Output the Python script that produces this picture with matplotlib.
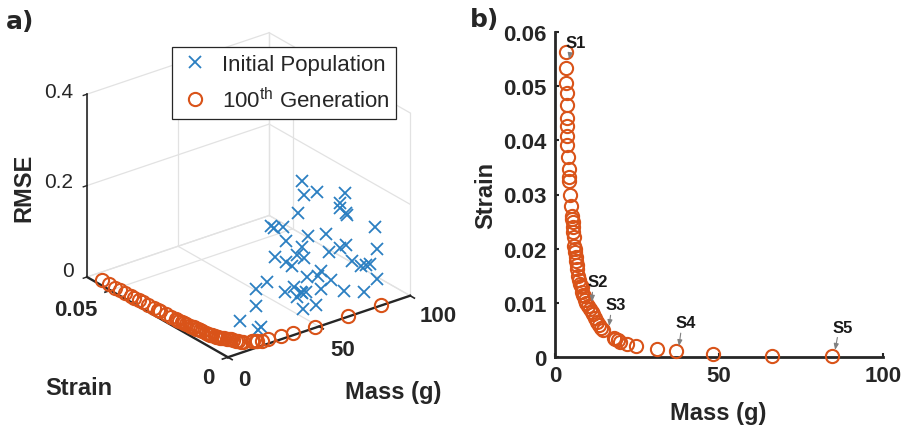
import matplotlib
matplotlib.use("Agg")
import matplotlib.pyplot as plt
from mpl_toolkits.mplot3d import Axes3D

W, H = 902, 431
plt.rcParams['font.family'] = ['Liberation Sans', 'DejaVu Sans']
plt.rcParams['mathtext.fontset'] = 'custom'
plt.rcParams['mathtext.rm'] = 'Liberation Sans'

BLUE = '#2b7fc1'
ORANGE = '#d95319'
DARK = '#262626'
GRID = '#e2e2e2'

# 100th generation (Pareto front)
front_mass = [3.35, 3.35, 3.35, 3.6, 3.6, 3.6, 3.6, 3.8, 3.8, 4.1, 4.2, 4.4, 4.4, 4.6, 4.8, 5.1, 5.2,
              5.4, 5.5, 5.6, 5.7, 5.8, 6.0, 6.2, 6.4, 6.5, 6.7, 6.8, 7.1, 7.3, 7.6, 7.8, 8.1, 8.2, 8.5,
              8.8, 9.2, 9.6, 10.2, 10.7, 11.2, 11.7, 12.2, 12.7, 13.3, 14.0, 14.7, 18.0, 18.3, 19.3,
              19.8, 21.9, 24.6, 31.0, 37.0, 48.2, 66.2, 84.4]
front_strain = [.0564, .0533, .0505, .0487, .0465, .0442, .0427, .0408, .0392, .037, .0347, .0333, .0325,
                .0299, .0279, .026, .0255, .0249, .024, .0231, .0221, .0205, .02, .0194, .0185, .0178,
                .017, .0162, .015, .0142, .0135, .0131, .0129, .012, .0115, .0112, .0105, .01, .0095,
                .0088, .0084, .0079, .0072, .0064, .0059, .0053, .0049, .0036, .0034, .0031, .0028,
                .0024, .002, .0015, .00105, .0005, .0002, .0002]
front_rmse = [0.0] * len(front_mass)

# initial population
init_mass = [55.9, 49.3, 64.5, 72.0, 77.0, 69.3, 80.2, 46.0, 96.4, 73.1, 69.4, 37.9, 39.1, 33.1, 47.3, 51.5,
             56.4, 72.5, 77.0, 89.8, 71.0, 33.6, 47.3, 45.5, 57.5, 42.8, 83.5, 80.6, 91.0, 85.5, 66.7, 57.4,
             59.1, 64.4, 89.3, 37.0, 23.4, 59.0, 67.6, 78.4, 51.6, 39.0, 55.4, 50.4, 53.2, 44.4, 31.0, 52.0,
             48.8, 14.2, 22.2, 20.6]
init_strain = [.012, .006, .012, .006, .012, .006, .012, .006, .012, .006, .012, .006, .012, .006, .012, .006,
               .012, .006, .012, .006, .012, .006, .012, .006, .012, .006, .012, .006, .012, .006, .012, .006,
               .012, .006, .006, .012, .006, .006, .003, .003, .012, .006, .012, .006, .012, .003, .012, .003,
               .006, .006, .003, .003]
init_rmse = [.276, .270, .239, .245, .198, .216, .173, .237, .121, .195, .141, .217, .199, .220, .155, .178,
             .131, .131, .100, .098, .099, .157, .110, .145, .105, .124, .062, .073, .044, .071, .063, .084,
             .060, .065, .034, .080, .100, .052, .045, .028, .049, .072, .032, .058, .024, .073, .035, .036,
             .022, .042, .028, .024]

mass_ticks = [0, 50, 100]
strain_ticks_3d = [0, 0.05]
strain_end = 0.06
rmse_ticks = [0, 0.2, 0.4]
strain_ticks_2d = [0, 0.01, 0.02, 0.03, 0.04, 0.05, 0.06]
strain_labels_2d = ['0', '0.01', '0.02', '0.03', '0.04', '0.05', '0.06']

# labelled solutions: name, label position, arrow tip
sol_names = ['S1', 'S2', 'S3', 'S4', 'S5']
sol_text_xy = [(6.3, .058), (13.0, .01385), (18.6, .0096), (40.0, .0063), (87.8, .0055)]
sol_tip_xy = [(4.3, .055), (11.3, .0102), (16.5, .0057), (37.8, .002), (85.4, .0013)]


def px_text(x, y, s, **kw):
    kw.setdefault('ha', 'center')
    kw.setdefault('va', 'center')
    kw.setdefault('color', DARK)
    fig.text(x / W, 1 - y / H, s, **kw)


fig = plt.figure(figsize=(W / 100, H / 100), dpi=100)

# panel a
side = 373
ax = fig.add_axes([57 / W, 43.5 / H, side / W, side / H], projection='3d',
                  proj_type='ortho', computed_zorder=False)
ax.set_box_aspect((233, 234, 206))
ax.view_init(elev=26, azim=-127.6)
ax.set_xlim(0, 100)
ax.set_ylim(0, strain_end)
ax.set_zlim(0, 0.4)
ax.set_axis_off()
ax.patch.set_alpha(0)

xmax = mass_ticks[-1]
zmax = rmse_ticks[-1]
g = dict(color=GRID, lw=0.9, zorder=1)
for m in mass_ticks:
    ax.plot([m, m], [0, strain_end], [0, 0], **g)
    ax.plot([m, m], [strain_end, strain_end], [0, zmax], **g)
for s in strain_ticks_3d + [strain_end]:
    ax.plot([0, xmax], [s, s], [0, 0], **g)
    ax.plot([xmax, xmax], [s, s], [0, zmax], **g)
for z in rmse_ticks:
    ax.plot([0, xmax], [strain_end, strain_end], [z, z], **g)
    ax.plot([xmax, xmax], [0, strain_end], [z, z], **g)

a = dict(color=DARK, zorder=2)
ax.plot([0, xmax], [0, 0], [0, 0], lw=1.7, **a)
ax.plot([0, 0], [0, strain_end], [0, 0], lw=1.7, **a)
ax.plot([0, 0], [strain_end, strain_end], [0, zmax], lw=1.2, **a)
for m in mass_ticks:
    ax.plot([m, m], [0, -0.0018], [0, 0], lw=1.2, **a)
for s in strain_ticks_3d:
    ax.plot([0, -3], [s, s], [0, 0], lw=1.2, **a)
for z in rmse_ticks:
    ax.plot([0, -2], [strain_end, strain_end], [z, z], lw=1.0, **a)

h1, = ax.plot(init_mass, init_strain, init_rmse, ls='none', marker='x', ms=8, mew=1.3,
              color=BLUE, zorder=3)
h2, = ax.plot(front_mass, front_strain, front_rmse, ls='none', marker='o', ms=9.5, mew=1.5,
              mfc='none', color=ORANGE, zorder=4)

leg = fig.legend([h1, h2], ['Initial Population', r'100$^{\mathrm{th}}$ Generation'],
                 loc='upper left', bbox_to_anchor=(172 / W, 1 - 48 / H), borderaxespad=0,
                 fontsize=16, fancybox=False, framealpha=1, edgecolor=DARK, labelspacing=0.55,
                 handlelength=1.5, handletextpad=0.45, borderpad=0.3, labelcolor=DARK)
leg.get_frame().set_linewidth(0.9)

px_text(20, 22, 'a)', fontsize=18, fontweight='bold', family='DejaVu Sans')
px_text(59, 93, '0.4', fontsize=15)
px_text(59, 183, '0.2', fontsize=15)
px_text(68, 272, '0', fontsize=15)
px_text(24, 188, 'RMSE', fontsize=17, fontweight='bold', rotation=90)
px_text(76, 311, '0.05', fontsize=16, fontweight='bold')
px_text(208, 379, '0', fontsize=16, fontweight='bold')
px_text(244, 381, '0', fontsize=16, fontweight='bold')
px_text(343, 350, '50', fontsize=16, fontweight='bold')
px_text(438, 317, '100', fontsize=16, fontweight='bold')
px_text(79, 389, 'Strain', fontsize=17, fontweight='bold')
px_text(393, 393, 'Mass (g)', fontsize=17, fontweight='bold')

# panel b
ax2 = fig.add_axes([555 / W, 1 - 358 / H, 328 / W, 325 / H])
ax2.plot(front_mass, front_strain, ls='none', marker='o', ms=9.5, mew=1.5, mfc='none',
         color=ORANGE, clip_on=False, zorder=3)
ax2.set_xlim(0, 100)
ax2.set_ylim(0, 0.06)
ax2.set_xticks(mass_ticks)
ax2.set_yticks(strain_ticks_2d)
ax2.set_yticklabels(strain_labels_2d)
ax2.tick_params(direction='in', length=3, width=1.5, color=DARK, labelcolor=DARK, labelsize=16, pad=6)
for lab in ax2.get_xticklabels() + ax2.get_yticklabels():
    lab.set_fontweight('bold')
ax2.spines['top'].set_visible(False)
ax2.spines['right'].set_visible(False)
for sp in ['left', 'bottom']:
    ax2.spines[sp].set_linewidth(2)
    ax2.spines[sp].set_color(DARK)
for name, txt, tip in zip(sol_names, sol_text_xy, sol_tip_xy):
    ax2.annotate(name, xy=tip, xytext=txt, ha='center', va='center', fontsize=12, fontweight='bold',
                 color='#1a1a1a', zorder=5,
                 arrowprops=dict(arrowstyle='-|>,head_width=0.12,head_length=0.3', color='#808080', lw=0.8,
                                 shrinkA=0, shrinkB=0, relpos=(0.25, 0)))

px_text(485, 20, 'b)', fontsize=18, fontweight='bold', family='DejaVu Sans')
px_text(486, 195, 'Strain', fontsize=17, fontweight='bold', rotation=90)
px_text(718, 414, 'Mass (g)', fontsize=17, fontweight='bold')

fig.savefig('out.png', dpi=100)
